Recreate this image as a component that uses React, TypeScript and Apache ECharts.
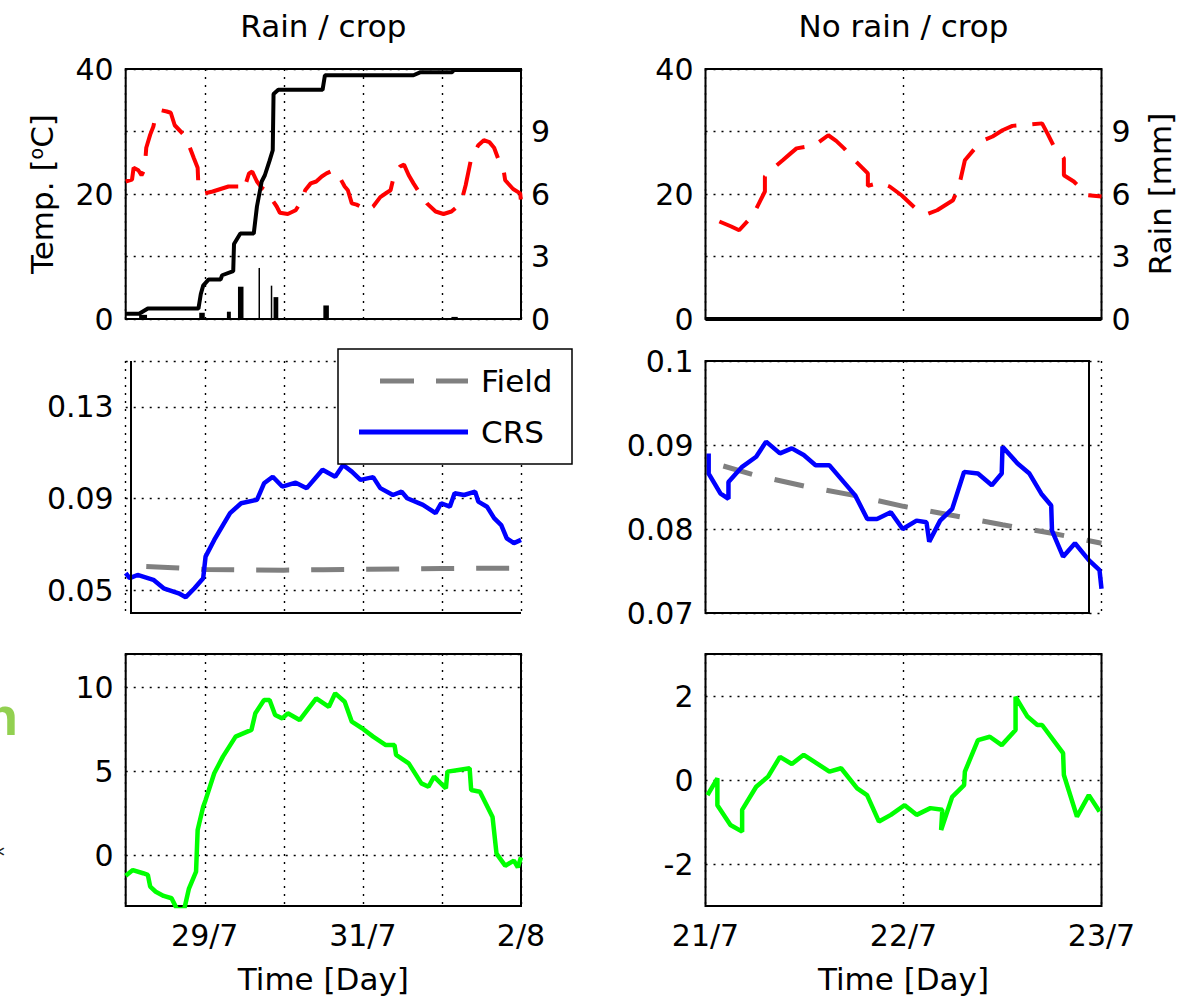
import React, { useEffect, useRef } from "react";
import * as echarts from "echarts";

// ---------- Rain / crop (x = day of July, 33 = 2/8) ----------
const rainTemp: [number, number][] = [
  [28.0, 22.0], [28.08, 22.3], [28.1, 24.2], [28.16, 23.8], [28.2, 23.0], [28.24, 24.0],
  [28.26, 27.4], [28.31, 29.5], [28.35, 30.8], [28.38, 32.6], [28.45, 33.4], [28.52, 33.2],
  [28.57, 33.0], [28.62, 31.0], [28.68, 30.2], [28.74, 29.4], [28.8, 27.8], [28.86, 25.8],
  [28.91, 24.2], [28.92, 21.2], [29.0, 20.1], [29.1, 20.4], [29.2, 20.8], [29.3, 21.2],
  [29.43, 21.2], [29.47, 20.5], [29.52, 21.7], [29.56, 23.3], [29.6, 23.6], [29.66, 22.0],
  [29.72, 21.0], [29.77, 20.6], [29.84, 19.3], [29.91, 18.0], [29.95, 17.0], [30.05, 16.8],
  [30.15, 17.4], [30.23, 19.0], [30.27, 20.6], [30.34, 21.7], [30.41, 22.0], [30.48, 22.8],
  [30.54, 23.3], [30.63, 23.8], [30.7, 22.8], [30.77, 21.2], [30.81, 20.6], [30.86, 18.5],
  [30.92, 18.3], [30.97, 18.0], [31.05, 17.3], [31.13, 18.0], [31.22, 19.5], [31.3, 20.2],
  [31.35, 20.6], [31.4, 23.3], [31.47, 24.4], [31.52, 24.7], [31.58, 23.0], [31.64, 21.7],
  [31.72, 20.1], [31.81, 18.5], [31.92, 17.2], [32.02, 16.8], [32.12, 17.2], [32.24, 18.5],
  [32.3, 21.4], [32.37, 25.7], [32.46, 27.8], [32.53, 28.6], [32.6, 28.3], [32.66, 27.4],
  [32.71, 25.7], [32.78, 23.8], [32.8, 22.2], [32.9, 20.8], [32.99, 20.1], [33.0, 18.8],
];

const rainCumulative: [number, number][] = [
  [28.0, 0.25], [28.17, 0.25], [28.28, 0.5], [28.92, 0.5], [28.95, 1.2], [28.98, 1.6],
  [29.05, 1.9], [29.2, 1.9], [29.22, 2.1], [29.36, 2.3], [29.37, 3.6], [29.45, 4.1],
  [29.62, 4.1], [29.66, 5.4], [29.72, 6.6], [29.76, 6.9], [29.82, 7.6], [29.86, 8.1],
  [29.87, 10.8], [29.93, 11.0], [30.49, 11.0], [30.52, 11.7], [31.64, 11.7], [31.73, 11.85],
  [32.13, 11.85], [32.15, 11.95], [33.0, 11.95],
];

// rain events: start day, end day, mm
const rainEvents: [number, number, number][] = [
  [28.17, 28.27, 0.2], [28.93, 29.0, 0.3], [29.28, 29.33, 0.35], [29.42, 29.49, 1.55],
  [29.68, 29.695, 2.45], [29.835, 29.85, 1.6], [29.87, 29.93, 1.05], [30.5, 30.57, 0.65],
  [32.12, 32.2, 0.1],
];

const rainField: [number, number][] = [
  [28.26, 0.0603], [28.6, 0.0598], [29.0, 0.059], [29.5, 0.0588], [30.0, 0.0587],
  [30.5, 0.0589], [31.0, 0.0591], [31.5, 0.0592], [32.0, 0.0594], [32.5, 0.0595], [33.0, 0.0596],
];

const rainCRS: [number, number][] = [
  [28.0, 0.0574], [28.05, 0.0552], [28.15, 0.0566], [28.35, 0.0545], [28.48, 0.0508],
  [28.67, 0.0486], [28.76, 0.0469], [28.87, 0.0508], [28.98, 0.0552], [29.01, 0.0646],
  [29.12, 0.0719], [29.23, 0.0784], [29.32, 0.0836], [29.46, 0.0879], [29.66, 0.0894],
  [29.75, 0.0966], [29.86, 0.0995], [29.98, 0.0952], [30.15, 0.0969], [30.29, 0.0945],
  [30.49, 0.1025], [30.65, 0.0995], [30.75, 0.1046], [30.86, 0.1017], [30.97, 0.0981],
  [31.13, 0.0993], [31.22, 0.0945], [31.38, 0.0915], [31.49, 0.093], [31.56, 0.0901],
  [31.76, 0.0872], [31.92, 0.0836], [31.99, 0.0879], [32.1, 0.0864], [32.16, 0.0923],
  [32.28, 0.0915], [32.42, 0.093], [32.46, 0.0886], [32.57, 0.0864], [32.66, 0.0814],
  [32.75, 0.0784], [32.82, 0.0726], [32.91, 0.0705], [33.0, 0.0719],
];

const rainDiff: [number, number][] = [
  [28.0, -1.2], [28.09, -0.86], [28.22, -1.05], [28.28, -1.15], [28.31, -1.85],
  [28.38, -2.15], [28.48, -2.4], [28.58, -2.54], [28.65, -3.2], [28.74, -3.2],
  [28.8, -1.96], [28.89, -0.95], [28.91, 1.52], [28.98, 2.91], [29.01, 3.3], [29.12, 4.9],
  [29.23, 5.89], [29.39, 7.08], [29.59, 7.48], [29.64, 8.47], [29.75, 9.26], [29.82, 9.26],
  [29.89, 8.37], [29.98, 8.17], [30.05, 8.47], [30.2, 8.07], [30.41, 9.36], [30.57, 8.86],
  [30.65, 9.66], [30.77, 9.16], [30.86, 7.97], [30.99, 7.58], [31.13, 7.08], [31.29, 6.58],
  [31.4, 6.58], [31.42, 5.99], [31.58, 5.49], [31.74, 4.3], [31.83, 4.1], [31.9, 4.7],
  [32.05, 4.0], [32.07, 5.0], [32.21, 5.1], [32.35, 5.2], [32.37, 3.9], [32.48, 3.8],
  [32.64, 2.3], [32.69, 0.12], [32.8, -0.6], [32.91, -0.3], [32.96, -0.7], [33.0, -0.1],
];

// ---------- No rain / crop ----------
const dryTemp: [number, number][] = [
  [21.07, 15.6], [21.13, 14.8], [21.17, 14.2], [21.24, 16.6], [21.27, 18.5], [21.3, 20.4],
  [21.3, 22.8], [21.36, 24.6], [21.39, 25.4], [21.43, 26.5], [21.46, 27.3], [21.55, 27.8],
  [21.62, 29.4], [21.66, 28.5], [21.7, 27.3], [21.76, 25.2], [21.82, 23.3], [21.82, 21.3],
  [21.88, 21.8], [21.93, 21.2], [21.99, 19.8], [22.07, 17.4], [22.12, 16.8], [22.17, 17.4],
  [22.25, 19.0], [22.28, 21.2], [22.31, 25.4], [22.39, 28.4], [22.45, 29.2], [22.5, 30.2],
  [22.55, 30.9], [22.7, 31.3], [22.73, 29.5], [22.76, 27.6], [22.81, 25.7], [22.81, 23.0],
  [22.86, 22.0], [22.93, 19.8], [23.0, 19.6],
];

const dryCumulative: [number, number][] = [[21.0, 0], [23.0, 0]];

const dryField: [number, number][] = [
  [21.09, 0.0875], [21.25, 0.0864], [21.5, 0.0851], [21.75, 0.084], [22.0, 0.0827],
  [22.25, 0.0816], [22.5, 0.0805], [22.75, 0.0795], [23.0, 0.0783],
];

const dryCRS: [number, number][] = [
  [21.016, 0.089], [21.016, 0.0866], [21.076, 0.0842], [21.116, 0.0836], [21.116, 0.0856],
  [21.185, 0.0874], [21.256, 0.0886], [21.306, 0.0904], [21.376, 0.089], [21.436, 0.0896],
  [21.496, 0.0888], [21.556, 0.0876], [21.625, 0.0876], [21.756, 0.084], [21.817, 0.0812],
  [21.866, 0.0812], [21.936, 0.082], [21.996, 0.08], [22.066, 0.081], [22.116, 0.0808],
  [22.13, 0.0785], [22.185, 0.081], [22.246, 0.0824], [22.306, 0.0868], [22.376, 0.0866],
  [22.446, 0.0852], [22.496, 0.0866], [22.5, 0.0898], [22.576, 0.0878], [22.636, 0.0866],
  [22.696, 0.0842], [22.746, 0.0828], [22.75, 0.0798], [22.806, 0.0767], [22.866, 0.0783],
  [22.936, 0.0763], [22.99, 0.0751], [23.0, 0.0729],
];

const dryDiff: [number, number][] = [
  [21.01, -0.36], [21.06, 0.04], [21.06, -0.6], [21.126, -1.07], [21.185, -1.23],
  [21.185, -0.71], [21.256, -0.16], [21.316, 0.08], [21.376, 0.55], [21.436, 0.38],
  [21.496, 0.6], [21.626, 0.2], [21.685, 0.28], [21.766, -0.2], [21.816, -0.36],
  [21.876, -0.99], [21.936, -0.83], [22.006, -0.6], [22.066, -0.83], [22.136, -0.67],
  [22.196, -0.71], [22.19, -1.19], [22.246, -0.4], [22.306, -0.12], [22.31, 0.2],
  [22.376, 0.95], [22.436, 1.03], [22.496, 0.83], [22.566, 1.19], [22.566, 1.98],
  [22.626, 1.51], [22.676, 1.31], [22.7, 1.31], [22.806, 0.64], [22.81, 0.12],
  [22.876, -0.87], [22.936, -0.36], [22.99, -0.75],
];

// ---------- tick labels ----------
const rainDayTicks = [29, 31, 33];
const rainDayLabels = ["29/7", "31/7", "2/8"];
const dryDayTicks = [21, 22, 23];
const dryDayLabels = ["21/7", "22/7", "23/7"];
const tempTicks = [0, 20, 40];
const rainMmTicks = [0, 3, 6, 9];
const rainMoistureTicks = [0.05, 0.09, 0.13];
const dryMoistureTicks = [0.07, 0.08, 0.09, 0.1];
const rainDiffTicks = [0, 5, 10];
const dryDiffTicks = [-2, 0, 2];

const FONT = '"DejaVu Sans", "Liberation Sans", Arial, sans-serif';
const FS = 30; // tick labels
const FT = 31; // titles, axis names, legend
const gridDots = { color: "#000", width: 1.4, type: [2, 6] };

const LX = 125.7;
const LW = 395.3;
const RX = 705.5;
const RW = 396;

function dayAxis(gridIndex: number, min: number, max: number, ticks: number[] | null, labels: string[] | null) {
  const base: any = {
    type: "value",
    gridIndex,
    min,
    max,
    interval: 1,
    axisLine: { show: false },
    axisTick: { show: false },
    splitLine: { show: true, lineStyle: gridDots },
    axisLabel: { show: false },
  };
  if (ticks && labels) {
    base.axisLabel = {
      show: true,
      fontSize: FS,
      color: "#000",
      margin: 14,
      showMinLabel: true,
      showMaxLabel: true,
      formatter: (v: number) => {
        const i = ticks.indexOf(Math.round(v));
        return i >= 0 ? labels[i] : "";
      },
    };
    base.name = "Time [Day]";
    base.nameLocation = "middle";
    base.nameGap = 57;
    base.nameTextStyle = { fontSize: FT, color: "#000" };
  }
  return base;
}

function stepAxis(gridIndex: number, min: number, max: number, interval: number, shown: number[], position: "left" | "right", split: boolean) {
  return {
    type: "value",
    gridIndex,
    min,
    max,
    interval,
    position,
    axisLine: { show: false },
    axisTick: { show: false },
    splitLine: { show: split, lineStyle: gridDots },
    axisLabel: {
      fontSize: FS,
      color: "#000",
      margin: position === "left" ? 12 : 10,
      formatter: (v: number) => (shown.some((s) => Math.abs(s - v) < 1e-9) ? String(+v.toFixed(3)) : ""),
    },
  };
}

function customAxis(gridIndex: number, min: number, max: number, ticks: number[], digits: number) {
  return {
    type: "value",
    gridIndex,
    min,
    max,
    axisLine: { show: false },
    axisTick: { show: false, customValues: [...ticks, max] },
    splitLine: { show: true, lineStyle: gridDots },
    axisLabel: {
      customValues: ticks,
      fontSize: FS,
      color: "#000",
      margin: 12,
      formatter: (v: number) => (digits > 0 ? v.toFixed(digits) : String(Math.round(v))),
    },
  };
}

function lineSeries(name: string, data: [number, number][], xi: number, yi: number, color: string, width: number, dash?: number[], z = 3) {
  return {
    type: "line",
    name,
    data,
    xAxisIndex: xi,
    yAxisIndex: yi,
    showSymbol: false,
    symbol: "none",
    silent: true,
    z,
    lineStyle: { color, width, type: dash ?? "solid", cap: "butt" },
  };
}

function buildOption(): any {
  const frame = { show: true, borderColor: "#000", borderWidth: 2, backgroundColor: "transparent" };
  return {
    animation: false,
    textStyle: { fontFamily: FONT },
    grid: [
      { left: LX, top: 69, width: LW, height: 250, ...frame },
      { left: RX, top: 69, width: RW, height: 250, ...frame },
      { left: LX, top: 361, width: LW, height: 252 },
      { left: RX, top: 361, width: RW, height: 252 },
      { left: LX, top: 654, width: LW, height: 252, ...frame },
      { left: RX, top: 654, width: RW, height: 252, ...frame },
    ],
    xAxis: [
      dayAxis(0, 28, 33, null, null),
      dayAxis(1, 21, 23, null, null),
      dayAxis(2, 28, 33, null, null),
      dayAxis(3, 21, 23, null, null),
      dayAxis(4, 28, 33, rainDayTicks, rainDayLabels),
      dayAxis(5, 21, 23, dryDayTicks, dryDayLabels),
    ],
    yAxis: [
      {
        ...stepAxis(0, 0, 40, 10, tempTicks, "left", true),
        name: "Temp. [{sup|o}C]",
        nameLocation: "middle",
        nameRotate: 90,
        nameGap: 68,
        nameTextStyle: {
          fontSize: FT,
          color: "#000",
          rich: { sup: { fontSize: 19, color: "#000", verticalAlign: "top", padding: [0, 0, 10, 0] } },
        },
      },
      stepAxis(0, 0, 12, 3, rainMmTicks, "right", false),
      stepAxis(1, 0, 40, 10, tempTicks, "left", true),
      {
        ...stepAxis(1, 0, 12, 3, rainMmTicks, "right", false),
        name: "Rain [mm]",
        nameLocation: "middle",
        nameRotate: 90,
        nameGap: 43,
        nameTextStyle: { fontSize: FT, color: "#000" },
      },
      customAxis(2, 0.04, 0.15, rainMoistureTicks, 2),
      stepAxis(3, 0.07, 0.1, 0.01, dryMoistureTicks, "left", true),
      customAxis(4, -3, 12, rainDiffTicks, 0),
      customAxis(5, -3, 3, dryDiffTicks, 0),
    ],
    series: [
      lineSeries("Temp", rainTemp, 0, 0, "#ff0000", 4, [34, 16], 3),
      {
        type: "custom",
        name: "Rain",
        xAxisIndex: 0,
        yAxisIndex: 1,
        silent: true,
        z: 4,
        data: rainEvents,
        encode: { x: [0, 1], y: 2 },
        renderItem: (_p: any, api: any) => {
          const a = api.coord([api.value(0), 0]);
          const b = api.coord([api.value(1), api.value(2)]);
          return {
            type: "rect",
            shape: { x: a[0], y: b[1], width: Math.max(b[0] - a[0], 1.5), height: a[1] - b[1] },
            style: { fill: "#000" },
          };
        },
      },
      lineSeries("Cumulative rain", rainCumulative, 0, 1, "#000", 4, undefined, 5),
      lineSeries("Temp", dryTemp, 1, 2, "#ff0000", 4, [34, 16], 3),
      lineSeries("Cumulative rain", dryCumulative, 1, 3, "#000", 4, undefined, 5),
      lineSeries("Field", rainField, 2, 4, "#808080", 5, [33, 22], 3),
      lineSeries("CRS", rainCRS, 2, 4, "#0000ff", 4.5, undefined, 4),
      lineSeries("Field", dryField, 3, 5, "#808080", 5, [30, 23], 3),
      lineSeries("CRS", dryCRS, 3, 5, "#0000ff", 4.5, undefined, 4),
      lineSeries("Difference", rainDiff, 4, 6, "#00ff00", 4.5),
      lineSeries("Difference", dryDiff, 5, 7, "#00ff00", 4.5),
    ],
    graphic: [
      {
        type: "text",
        x: LX + LW / 2,
        y: 26,
        z: 100,
        style: { text: "Rain / crop", fontSize: FT, fontFamily: FONT, fill: "#000", align: "center", verticalAlign: "middle" },
      },
      {
        type: "text",
        x: RX + RW / 2,
        y: 26,
        z: 100,
        style: { text: "No rain / crop", fontSize: FT, fontFamily: FONT, fill: "#000", align: "center", verticalAlign: "middle" },
      },
      // solid frame pieces of the moisture panels
      { type: "line", z: 100, shape: { x1: 131, y1: 361, x2: 131, y2: 614 }, style: { stroke: "#000", lineWidth: 2 } },
      { type: "line", z: 100, shape: { x1: 130, y1: 613, x2: LX + LW, y2: 613 }, style: { stroke: "#000", lineWidth: 2 } },
      { type: "rect", z: 100, shape: { x: RX, y: 361, width: 383.5, height: 252 }, style: { fill: "none", stroke: "#000", lineWidth: 2 } },
      // legend
      {
        type: "group",
        z: 110,
        children: [
          { type: "rect", z: 110, shape: { x: 338, y: 349, width: 234, height: 115 }, style: { fill: "#fff", stroke: "#000", lineWidth: 1.5 } },
          { type: "line", z: 111, shape: { x1: 380, y1: 381, x2: 468, y2: 381 }, style: { stroke: "#808080", lineWidth: 5, lineDash: [34, 22] } },
          { type: "line", z: 111, shape: { x1: 359, y1: 432, x2: 468, y2: 432 }, style: { stroke: "#0000ff", lineWidth: 5 } },
          { type: "text", z: 111, x: 481, y: 381, style: { text: "Field", fontSize: FT, fontFamily: FONT, fill: "#000", verticalAlign: "middle" } },
          { type: "text", z: 111, x: 481, y: 432, style: { text: "CRS", fontSize: FT, fontFamily: FONT, fill: "#000", verticalAlign: "middle" } },
        ],
      },
      // fragments at the left margin
      { type: "text", z: 100, x: 18, y: 716, style: { text: "n", fontSize: 54, fontWeight: "bold", fontFamily: '"Liberation Sans", Arial, sans-serif', fill: "#92d050", align: "right", verticalAlign: "middle" } },
      { type: "text", z: 100, x: 5, y: 856, style: { text: "*", fontSize: 28, fontFamily: FONT, fill: "#222", align: "right", verticalAlign: "middle" } },
    ],
  };
}

export default function App() {
  const ref = useRef<HTMLDivElement>(null);
  useEffect(() => {
    if (!ref.current) return;
    const chart = echarts.init(ref.current, undefined, { renderer: "svg" });
    chart.setOption(buildOption());
    return () => chart.dispose();
  }, []);
  return (
    <div
      ref={ref}
      style={{ position: "absolute", left: 0, top: 0, width: 1181, height: 1004, background: "#fff" }}
    />
  );
}
